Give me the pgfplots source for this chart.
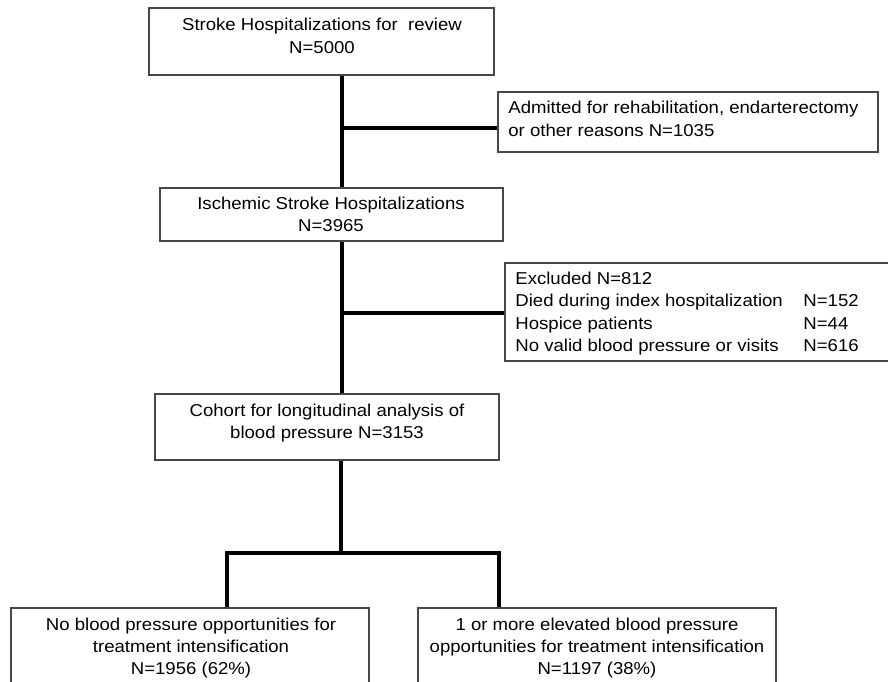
\documentclass[border=0pt]{standalone}
\usepackage{pgfplots}
\pgfplotsset{compat=1.18}
\usepackage{fontspec}
\setmainfont{Liberation Sans}[FakeStretch=1.08]
\begin{document}
\begin{tikzpicture}
\begin{axis}[
  name=ax,
  width=444pt, height=340.5pt, scale only axis,
  xmin=0, xmax=888, ymin=0, ymax=681, y dir=reverse,
  hide axis, clip=false,
]
\tikzset{
  bx/.style={draw=black!72, line width=0.65pt},
  cn/.style={draw=black, line width=1.8pt},
  tx/.style={inner sep=0pt, font=\fontsize{8.6}{10}\selectfont},
}
% connectors
\draw[cn] (axis cs:342,75) -- (axis cs:342,394);
\draw[cn] (axis cs:340,128) -- (axis cs:498,128);
\draw[cn] (axis cs:342,313) -- (axis cs:505,313);
\draw[cn] (axis cs:341,460) -- (axis cs:341,553);
\draw[cn] (axis cs:227,608) -- (axis cs:227,553) -- (axis cs:499,553) -- (axis cs:499,608);
% boxes
\draw[bx, fill=white] (axis cs:149,8) rectangle (axis cs:494,75);
\draw[bx, fill=white] (axis cs:498,92) rectangle (axis cs:878,152);
\draw[bx, fill=white] (axis cs:160,188) rectangle (axis cs:503,241);
\draw[bx, fill=white] (axis cs:505,263) rectangle (axis cs:895,361);
\draw[bx, fill=white] (axis cs:155,394) rectangle (axis cs:499,460);
\draw[bx, fill=white] (axis cs:11,608) rectangle (axis cs:369,690);
\draw[bx, fill=white] (axis cs:418,608) rectangle (axis cs:776,690);
% box 1
\node[tx, anchor=base] at (axis cs:322,30.5) {Stroke Hospitalizations for\ \ review};
\node[tx, anchor=base] at (axis cs:322,53) {N=5000};
% box 2
\node[tx, anchor=base west] at (axis cs:508,113.5) {Admitted for rehabilitation, endarterectomy};
\node[tx, anchor=base west] at (axis cs:508,136) {or other reasons N=1035};
% box 3
\node[tx, anchor=base] at (axis cs:331,209) {Ischemic Stroke Hospitalizations};
\node[tx, anchor=base] at (axis cs:331,231.5) {N=3965};
% box 4
\node[tx, anchor=base west] at (axis cs:515,284) {Excluded N=812};
\node[tx, anchor=base west] at (axis cs:515,306.5) {Died during index hospitalization};
\node[tx, anchor=base west] at (axis cs:515,329) {Hospice patients};
\node[tx, anchor=base west] at (axis cs:515,351.5) {No valid blood pressure or visits};
\node[tx, anchor=base west] at (axis cs:803,306.5) {N=152};
\node[tx, anchor=base west] at (axis cs:803,329) {N=44};
\node[tx, anchor=base west] at (axis cs:803,351.5) {N=616};
% box 5
\node[tx, anchor=base] at (axis cs:327,416.5) {Cohort for longitudinal analysis of};
\node[tx, anchor=base] at (axis cs:327,438.5) {blood pressure N=3153};
% box 6
\node[tx, anchor=base] at (axis cs:191,630) {No blood pressure opportunities for};
\node[tx, anchor=base] at (axis cs:191,652) {treatment intensification};
\node[tx, anchor=base] at (axis cs:191,674) {N=1956 (62\%)};
% box 7
\node[tx, anchor=base] at (axis cs:597,630) {1 or more elevated blood pressure};
\node[tx, anchor=base] at (axis cs:597,652) {opportunities for treatment intensification};
\node[tx, anchor=base] at (axis cs:597,674) {N=1197 (38\%)};
\end{axis}
\pgfresetboundingbox
\path (ax.south west) rectangle (ax.north east);
\end{tikzpicture}
\end{document}
